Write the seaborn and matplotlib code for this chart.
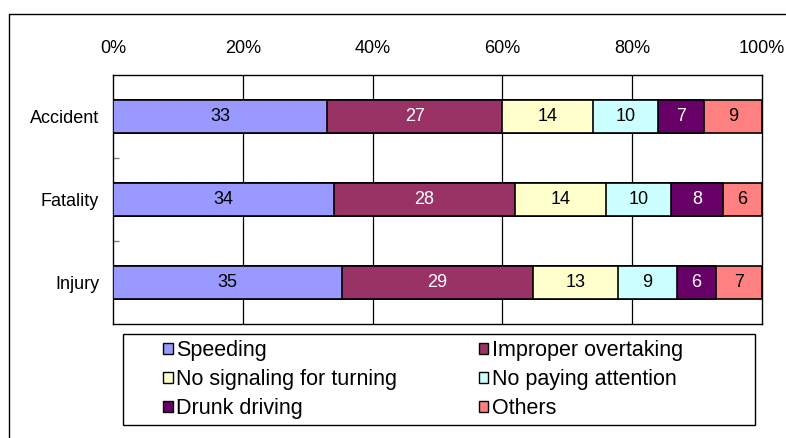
import numpy as np
import pandas as pd
import matplotlib
matplotlib.use("Agg")
import matplotlib.pyplot as plt
from matplotlib.patches import Rectangle, Patch
from matplotlib.lines import Line2D
import seaborn as sns

categories = ["Accident", "Fatality", "Injury"]
series_names = ["Speeding", "Improper overtaking", "No signaling for turning",
                "No paying attention", "Drunk driving", "Others"]
speeding = [33, 34, 35]
improper_overtaking = [27, 28, 29]
no_signaling = [14, 14, 13]
no_attention = [10, 10, 9]
drunk_driving = [7, 8, 6]
others = [9, 6, 7]
colors = ["#9999FF", "#993366", "#FFFFCC", "#CCFFFF", "#660066", "#FF8080"]
label_colors = ["black", "white", "black", "black", "white", "black"]
tick_labels = ["0%", "20%", "40%", "60%", "80%", "100%"]

sns.set_theme(style="white")
plt.rcParams["font.family"] = ["Liberation Sans", "DejaVu Sans"]
plt.rcParams["text.color"] = "black"
plt.rcParams["axes.labelcolor"] = "black"

W, H = 786, 438
fig = plt.figure(figsize=(W / 100, H / 100), dpi=100)
ax = fig.add_axes([113 / W, 1 - 324 / H, (762 - 113) / W, (324 - 75) / H])

values = np.array([speeding, improper_overtaking, no_signaling,
                   no_attention, drunk_driving, others], dtype=float)
totals = values.sum(axis=0)
pct = values / totals * 100
cum = np.cumsum(pct, axis=0)

# draw cumulative bars from the largest to the smallest (stacked look)
for i in range(len(series_names) - 1, -1, -1):
    df = pd.DataFrame({"cat": categories, "val": cum[i]})
    sns.barplot(data=df, x="val", y="cat", orient="h", color=colors[i],
                saturation=1, width=0.4, edgecolor="black", linewidth=1.2,
                ax=ax, zorder=3)

# value labels
for i in range(len(series_names)):
    start = cum[i] - pct[i]
    for j, cat in enumerate(categories):
        ax.text(start[j] + pct[i][j] / 2, j, f"{int(values[i][j])}",
                ha="center", va="center", fontsize=13,
                color=label_colors[i], zorder=5)

ax.set_xlim(0, 100)
ax.set_ylim(2.5, -0.5)
ax.set_xticks([0, 20, 40, 60, 80, 100])
ax.set_xticklabels(tick_labels)
ax.xaxis.tick_top()
ax.tick_params(axis="x", length=0, pad=13, labelsize=13, colors="black")
ax.tick_params(axis="y", which="major", length=0, pad=10, labelsize=13, colors="black")
ax.set_yticks([0.5, 1.5], minor=True)
ax.tick_params(axis="y", which="minor", direction="in", length=4, width=1,
               color="#808080", left=True)
ax.set_xlabel("")
ax.set_ylabel("")
ax.grid(False)
for x in [20, 40, 60, 80]:
    ax.axvline(x, color="black", linewidth=0.9, zorder=1)
for s in ax.spines.values():
    s.set_visible(True)
    s.set_color("black")
    s.set_linewidth(1.0)

# outer frame (left & top visible)
fig.add_artist(Line2D([9 / W, 9 / W], [0, 1 - 14 / H], color="black",
                      linewidth=1.0, transform=fig.transFigure))
fig.add_artist(Line2D([9 / W, 1], [1 - 14 / H, 1 - 14 / H], color="black",
                      linewidth=1.0, transform=fig.transFigure))

# legend box
fig.add_artist(Rectangle((123 / W, 1 - 425 / H), (755 - 123) / W, (425 - 334) / H,
                         transform=fig.transFigure, facecolor="white",
                         edgecolor="black", linewidth=1.0))
order = [0, 2, 4, 1, 3, 5]
handles = [Patch(facecolor=colors[k], edgecolor="black", linewidth=1.0) for k in order]
labels = [series_names[k] for k in order]
leg = fig.legend(handles, labels, ncol=2, loc="upper left",
                 bbox_to_anchor=(163 / W, 1 - 340 / H), frameon=False,
                 fontsize=15.5, handlelength=0.45, handleheight=0.45,
                 handletextpad=0.15, columnspacing=3.8, labelspacing=0.38,
                 borderpad=0, borderaxespad=0)
for t in leg.get_texts():
    t.set_color("black")

fig.savefig("out.png", dpi=100)
